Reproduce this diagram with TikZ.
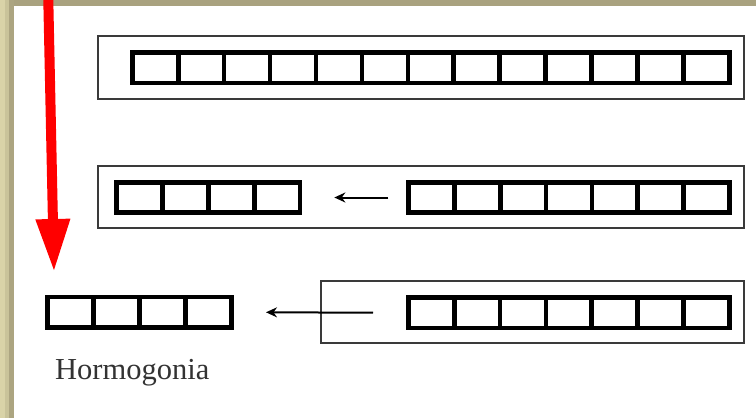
\documentclass[tikz,border=0pt]{standalone}
\usepackage{fontspec}
\setmainfont{Liberation Serif}
\usetikzlibrary{arrows.meta}
\definecolor{bandA}{HTML}{D9D3A8}
\definecolor{bandB}{HTML}{C9C39A}
\definecolor{bandC}{HTML}{ACA581}
\definecolor{bandTop}{HTML}{A9A27F}
\definecolor{boxgray}{HTML}{3A3A3A}
\definecolor{txtgray}{HTML}{333333}
\tikzset{
  cell/.style={draw=black, line width=4.6pt, minimum width=45.9pt, minimum height=30.5pt, inner sep=0pt, anchor=west},
  sheath/.style={draw=boxgray, line width=1.6pt},
  smallarr/.style={draw=black, line width=2pt, -{Stealth[length=11pt,width=10pt]}},
  redarr/.style={draw=red, line width=10pt, -{Triangle[length=53pt,width=32pt]}},
}
\begin{document}
\begin{tikzpicture}[x=1pt,y=-1pt]
\useasboundingbox (0,0) rectangle (756,418);
\fill[white] (0,0) rectangle (756,418);
% frame bands
\fill[bandTop] (0,0) rectangle (756,6);
\fill[bandA] (0,0) rectangle (4.5,418);
\fill[bandB] (4.5,0) rectangle (9,418);
\fill[bandC] (9,0) rectangle (14,418);
% sheaths
\node[sheath, minimum width=646pt, minimum height=63pt, inner sep=0pt] (s1) at (421,67.5) {};
\node[sheath, minimum width=646pt, minimum height=62pt, inner sep=0pt] (s2) at (421,197) {};
\node[sheath, minimum width=423pt, minimum height=62pt, inner sep=0pt] (s3) at (532.5,312) {};
% row 1 : 13 cells
\foreach \i in {0,...,12} {
  \node[cell] (ra\i) at ({130+45.92*\i},67.7) {};
}
% row 2 left : 4 cells
\foreach \i in {0,...,3} {
  \node[cell] (rb\i) at ({114.3+45.85*\i},197.5) {};
}
% row 2 right : 7 cells
\foreach \i in {0,...,6} {
  \node[cell] (rc\i) at ({406.3+45.82*\i},197.5) {};
}
% row 3 left (hormogonia) : 4 cells
\foreach \i in {0,...,3} {
  \node[cell] (rd\i) at ({45+46*\i},312.3) {};
}
% row 3 right : 7 cells
\foreach \i in {0,...,6} {
  \node[cell] (re\i) at ({406+45.85*\i},312.7) {};
}
% arrows
\coordinate (a2s) at ([xshift=-18pt]rc0.west);
\coordinate (a2e) at ([xshift=32pt]rb3.east);
\draw[smallarr] (a2s) -- (a2e);
\coordinate (a3s) at ([xshift=-33pt]re0.west);
\coordinate (a3e) at ([xshift=32.5pt]rd3.east);
\draw[smallarr] (a3s) -- (a3e);
% label
\node[anchor=base west, inner sep=0pt, text=txtgray, font=\fontsize{30.5}{36}\selectfont] (lbl) at (55,379) {Hormogonia};
% red arrow
\coordinate (rtop) at (48.3,0);
\coordinate (rtip) at (54,272);
\draw[redarr] (rtop) -- (rtip);
\end{tikzpicture}
\end{document}
